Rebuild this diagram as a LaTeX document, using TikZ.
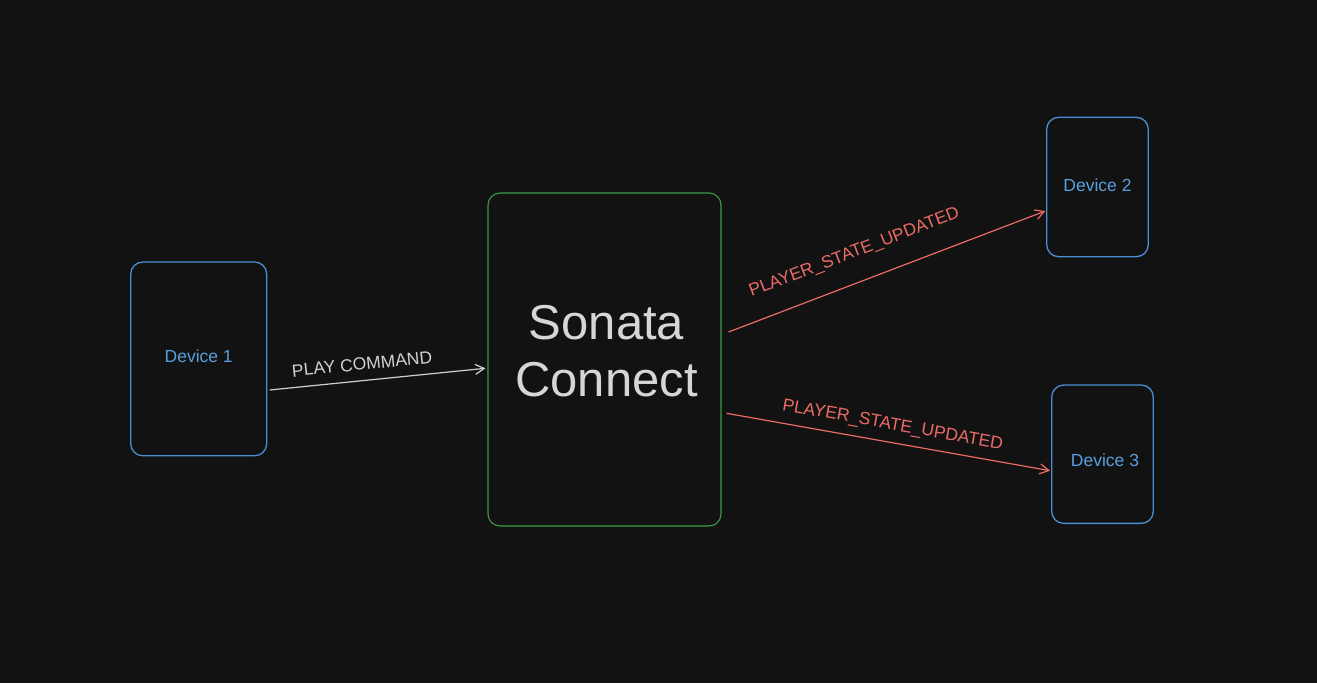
\documentclass[tikz,border=0pt]{standalone}
\usepackage{fontspec}
\setmainfont{Liberation Sans}
\usetikzlibrary{arrows.meta}
\definecolor{bg}{HTML}{121212}
\definecolor{devblue}{HTML}{4A8FD6}
\definecolor{devtext}{HTML}{5A9EE0}
\definecolor{hubgreen}{HTML}{3A9C45}
\definecolor{hubtext}{HTML}{D6D6D6}
\definecolor{evred}{HTML}{EA6B66}
\definecolor{cmdgray}{HTML}{D0D0D0}
\tikzset{
  devbox/.style={draw=devblue, line width=1.3pt, rounded corners=12pt, inner sep=0pt},
  hubbox/.style={draw=hubgreen, line width=1.1pt, rounded corners=12pt, inner sep=0pt},
  smalltext/.style={font=\fontsize{17.5}{21}\selectfont},
  devlabel/.style={smalltext, text=devtext, inner sep=0pt},
  cmdarrow/.style={draw=cmdgray, line width=1.2pt, -{Straight Barb[length=9pt,width=10pt]}},
  evarrow/.style={draw=evred, line width=1.2pt, -{Straight Barb[length=9pt,width=10pt]}},
  edgelabel/.style={smalltext, sloped, anchor=south, inner xsep=0pt, text depth=0pt}
}
\begin{document}
\begin{tikzpicture}[x=1pt,y=-1pt]
  \fill[bg] (0,0) rectangle (1317,683);
  \useasboundingbox (0,0) rectangle (1317,683);

  \node[devbox, minimum width=136pt, minimum height=193.7pt,
        label={[devlabel, yshift=2.3pt]center:Device 1}] (d1) at (198.7,358.9) {};
  \node[hubbox, minimum width=233pt, minimum height=333pt,
        label={[text=hubtext, inner sep=0pt, align=center, xshift=2pt, yshift=8.6pt,
                font=\fontsize{49}{56.7}\selectfont]center:Sonata\\Connect}] (sc) at (604.5,359.5) {};
  \node[devbox, minimum width=101.6pt, minimum height=139.4pt,
        label={[devlabel, yshift=1.5pt]center:Device 2}] (d2) at (1097.5,187) {};
  \node[devbox, minimum width=101.6pt, minimum height=138.3pt,
        label={[devlabel, xshift=2.5pt, yshift=-6.3pt]center:Device 3}] (d3) at (1102.5,454.2) {};

  \draw[cmdarrow] ([xshift=2.3pt,yshift=-31.1pt]d1.east) --
    node[edgelabel, pos=0.436, inner ysep=10pt, text=cmdgray] {PLAY COMMAND}
    ([xshift=-2pt,yshift=-8.8pt]sc.west);
  \draw[evarrow] ([xshift=7pt,yshift=27.5pt]sc.east) --
    node[edgelabel, pos=0.43, inner ysep=24pt, text=evred] {PLAYER\_STATE\_UPDATED}
    ([xshift=-0.7pt,yshift=-24pt]d2.west);
  \draw[evarrow] ([xshift=5pt,yshift=-53.8pt]sc.east) --
    node[edgelabel, pos=0.504, inner ysep=12pt, text=evred] {PLAYER\_STATE\_UPDATED}
    ([xshift=-1pt,yshift=-16.5pt]d3.west);
\end{tikzpicture}
\end{document}
